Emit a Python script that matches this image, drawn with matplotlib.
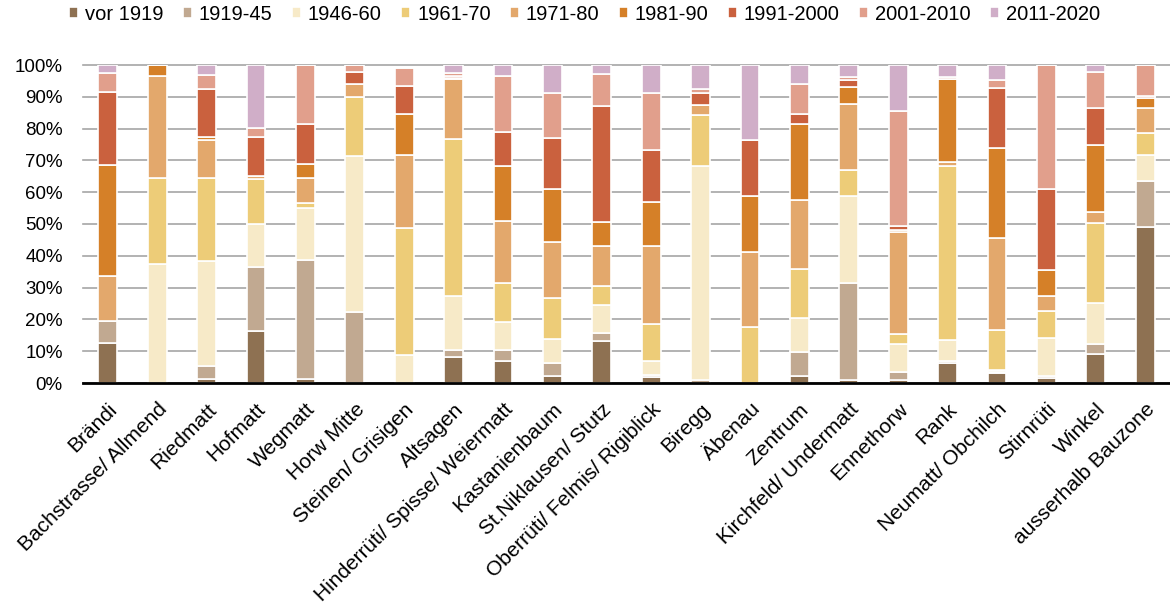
import matplotlib.pyplot as plt
import numpy as np
from matplotlib.ticker import PercentFormatter

plt.rcParams['font.family'] = ['Liberation Sans', 'DejaVu Sans']

quartiere = ['Brändi', 'Bachstrasse/ Allmend', 'Riedmatt', 'Hofmatt', 'Wegmatt',
             'Horw Mitte', 'Steinen/ Grisigen', 'Altsagen',
             'Hinderrüti/ Spisse/ Weiermatt', 'Kastanienbaum', 'St.Niklausen/ Stutz',
             'Oberrüti/ Felmis/ Rigiblick', 'Biregg', 'Äbenau', 'Zentrum',
             'Kirchfeld/ Undermatt', 'Ennethorw', 'Rank', 'Neumatt/ Obchilch',
             'Stirnrüti', 'Winkel', 'ausserhalb Bauzone']

perioden = ['vor 1919', '1919-45', '1946-60', '1961-70', '1971-80',
            '1981-90', '1991-2000', '2001-2010', '2011-2020']

farben = ['#8E7152', '#C1A991', '#F7EAC8', '#EDCC78', '#E3A86C',
          '#D58028', '#CA613E', '#E19F8C', '#D0AEC8']

# Anteile in % je Quartier (Reihenfolge wie perioden)
anteile = [
    [12.5, 7.0, 0.0, 0.0, 14.3, 34.7, 23.0, 6.0, 2.5],
    [0.0, 0.0, 37.5, 27.0, 32.0, 3.5, 0.0, 0.0, 0.0],
    [1.2, 4.3, 33.0, 26.0, 12.0, 0.8, 15.0, 4.7, 3.0],
    [16.5, 20.0, 13.5, 14.0, 1.0, 0.0, 12.5, 2.7, 19.8],
    [1.2, 37.6, 16.2, 1.5, 8.0, 4.3, 12.7, 18.5, 0.0],
    [0.0, 22.4, 49.1, 18.3, 4.1, 0.0, 3.8, 2.3, 0.0],
    [0.0, 0.0, 8.8, 39.9, 23.1, 12.7, 8.9, 5.8, 0.0],
    [8.3, 2.1, 17.1, 49.2, 18.9, 0.4, 0.6, 1.0, 2.4],
    [6.9, 3.5, 8.9, 12.3, 19.3, 17.3, 10.8, 17.6, 3.4],
    [2.3, 3.9, 7.5, 13.1, 17.6, 16.6, 16.1, 14.2, 8.7],
    [13.2, 2.4, 8.9, 6.1, 12.6, 7.3, 36.6, 10.0, 2.9],
    [1.8, 0.8, 4.3, 11.5, 24.8, 13.8, 16.3, 18.0, 8.7],
    [0.0, 0.8, 67.4, 16.1, 3.1, 0.0, 3.9, 1.2, 7.5],
    [0.0, 0.0, 0.0, 17.7, 23.6, 17.5, 17.6, 0.0, 23.6],
    [2.2, 7.4, 10.7, 15.5, 21.7, 23.8, 3.2, 9.6, 5.9],
    [0.9, 30.4, 27.6, 8.1, 20.6, 5.4, 2.2, 1.0, 3.8],
    [0.8, 2.8, 8.6, 3.1, 32.3, 0.4, 1.5, 36.0, 14.5],
    [6.2, 0.7, 6.6, 54.7, 1.4, 26.0, 0.0, 0.6, 3.8],
    [3.2, 0.3, 0.6, 12.6, 28.8, 28.3, 18.9, 2.5, 4.8],
    [1.5, 0.8, 11.7, 8.6, 4.9, 8.0, 25.4, 39.1, 0.0],
    [9.0, 3.2, 12.9, 25.1, 3.5, 21.1, 11.6, 11.5, 2.1],
    [49.0, 14.6, 8.1, 6.8, 7.9, 3.1, 0.8, 9.7, 0.0],
]

werte = np.array(anteile) / 100.0
x = np.arange(len(quartiere))

fig = plt.figure(figsize=(11.7, 6.07), dpi=100)
ax = fig.add_axes([83 / 1170, 1 - 383 / 607, (1170 - 83) / 1170, (383 - 65) / 607])

unten = np.zeros(len(quartiere))
for i, p in enumerate(perioden):
    ax.bar(x, werte[:, i], bottom=unten, width=0.38, color=farben[i],
           edgecolor='white', linewidth=1.2, label=p, zorder=3)
    unten += werte[:, i]

ax.set_xlim(-0.5, len(quartiere) - 0.5)
ax.set_ylim(0, 1.0)
ax.set_yticks(np.arange(0, 1.01, 0.1))
ax.yaxis.set_major_formatter(PercentFormatter(1.0, decimals=0))
ax.grid(axis='y', color='#A6A6A6', linewidth=1.2, zorder=0)
for gl in ax.get_ygridlines():
    gl.set_clip_on(False)

ax.set_xticks(x)
ax.set_xticklabels(quartiere, rotation=45, ha='right', rotation_mode='anchor',
                   fontsize=15)
ax.tick_params(axis='y', labelsize=13.5, length=0, pad=14.5)
ax.tick_params(axis='x', length=0, pad=12)

for s in ['top', 'right', 'left']:
    ax.spines[s].set_visible(False)
ax.spines['bottom'].set_color('black')
ax.spines['bottom'].set_linewidth(2)
ax.spines['bottom'].set_zorder(4)

fig.legend(loc='upper left', bbox_to_anchor=(61 / 1170, 1.005), ncol=9,
           frameon=False, fontsize=14.5, handlelength=0.45, handleheight=0.45,
           handletextpad=0.35, columnspacing=0.95, borderaxespad=0.0)

fig.savefig('out.png', dpi=100)
